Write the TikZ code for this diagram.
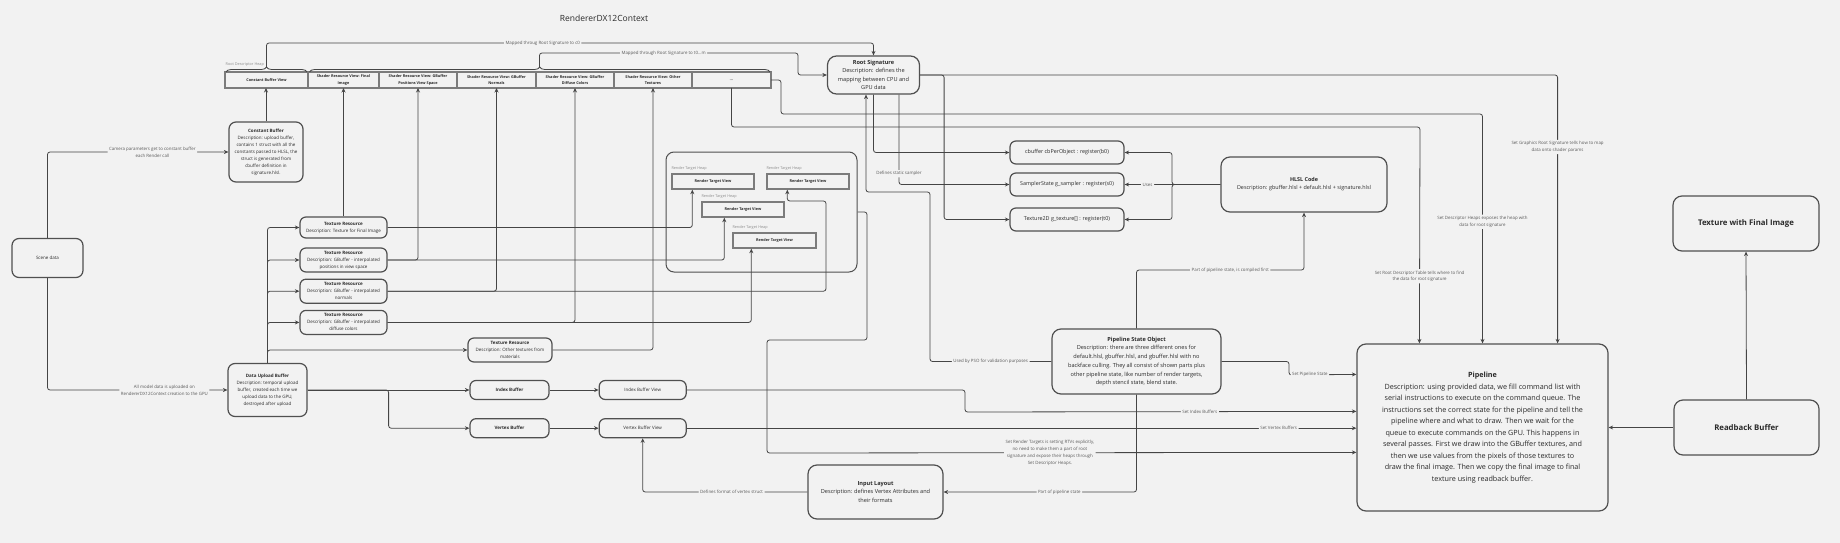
\documentclass[tikz,border=0pt]{standalone}
\usepackage{fontspec}
\setmainfont{Open Sans}
\usepackage{xcolor}
\usetikzlibrary{arrows.meta, positioning, calc, decorations.pathreplacing}
\definecolor{canvasgray}{HTML}{F2F2F2}
\definecolor{edgegray}{HTML}{454545}
\definecolor{framegray}{HTML}{505050}
\definecolor{cellgray}{HTML}{7C7C7C}
\definecolor{inkgray}{HTML}{2A2A2A}
\definecolor{notegray}{HTML}{5A5A5A}
\definecolor{faintgray}{HTML}{8C8C8C}

\begin{document}
\begin{tikzpicture}[
    x=1pt, y=-1pt,
    box/.style={rectangle, draw=framegray, line width=1.2pt, rounded corners=7pt, fill=canvasgray, align=center, text=inkgray, inner sep=1pt, font=\fontsize{4.5}{7}\selectfont},
    pillbox/.style={box, rounded corners=6pt},
    bigbox/.style={box, rounded corners=9pt, font=\fontsize{5.6}{8.7}\selectfont},
    cell/.style={rectangle, draw=cellgray, line width=1.4pt, fill=canvasgray, outer sep=0pt, minimum height=16pt, inner sep=0pt, align=center, text=inkgray, font=\bfseries\fontsize{3.8}{6.5}\selectfont},
    rtvbox/.style={rectangle, draw=cellgray, line width=1.4pt, fill=canvasgray, minimum width=82pt, minimum height=15pt, inner sep=0pt, text=inkgray, font=\bfseries\fontsize{3.8}{5}\selectfont},
    heaplabel/.style={text=faintgray, inner sep=0pt, font=\fontsize{3.8}{5}\selectfont},
    note/.style={fill=canvasgray, inner sep=1.5pt, align=center, text=notegray, font=\fontsize{4.4}{6.8}\selectfont},
    arrow/.style={-{Stealth[length=4.5pt, width=4pt]}, draw=edgegray, line width=0.8pt, rounded corners=2.5pt},
    link/.style={draw=edgegray, line width=0.8pt}
]

% Canvas
\fill[canvasgray] (0,0) rectangle (1840,543);
\useasboundingbox (0,0) rectangle (1840,543);

\node[text=inkgray, font=\fontsize{8.5}{10}\selectfont] (title) at (604,18) {RendererDX12Context};

% Root descriptor heap
\node[cell, minimum width=83pt] (cbv) at (266.5,80) {Constant Buffer View};
\node[cell, minimum width=71pt, right=0pt of cbv] (srvfinal) {Shader Resource View: Final\\Image};
\node[cell, minimum width=78pt, right=0pt of srvfinal] (srvpos) {Shader Resource View: GBuffer\\Positions View Space};
\node[cell, minimum width=79pt, right=0pt of srvpos] (srvnorm) {Shader Resource View: GBuffer\\Normals};
\node[cell, minimum width=78pt, right=0pt of srvnorm] (srvdiff) {Shader Resource View: GBuffer\\Diffuse Colors};
\node[cell, minimum width=78pt, right=0pt of srvdiff] (srvother) {Shader Resource View: Other\\Textures};
\node[cell, minimum width=79pt, right=0pt of srvother, font=\fontsize{5}{6}\selectfont] (srvmore) {...};
\node[heaplabel, anchor=west] (rdheap) at (225.5,64.5) {Root Descriptor Heap};

\draw[link, decorate, decoration={brace, amplitude=5pt}] ($(cbv.north west)+(1,0)$) -- ($(cbv.north east)+(-1,0)$);
\draw[link, decorate, decoration={brace, amplitude=5pt}] ($(srvfinal.north west)+(1.5,0)$) -- ($(srvmore.north east)+(-1,0)$);
\coordinate (c0tip) at (266.5,67);
\coordinate (ttip) at (539.5,67);

% Root signature and shader registers
\node[bigbox, minimum width=92pt, minimum height=38pt, font=\fontsize{5.6}{8.5}\selectfont] (rootsig) at (873.5,75) {\textbf{Root Signature}\\Description: defines the\\mapping between CPU and\\GPU data};
\node[pillbox, minimum width=114pt, minimum height=23pt, font=\fontsize{5.4}{7}\selectfont] (cbreg) at (1067,152.5) {cbuffer cbPerObject : register(b0)};
\node[pillbox, minimum width=114pt, minimum height=23pt, font=\fontsize{5.4}{7}\selectfont] (sampreg) at (1067,184.5) {SamplerState g\_sampler : register(s0)};
\node[pillbox, minimum width=114pt, minimum height=23pt, font=\fontsize{5.4}{7}\selectfont] (texreg) at (1067,219.5) {Texture2D g\_texture[] : register(t0)};
\node[bigbox, minimum width=166pt, minimum height=55pt, font=\fontsize{5.4}{8}\selectfont] (hlsl) at (1304,184.5) {\textbf{HLSL Code}\\Description: gbuffer.hlsl + default.hlsl + signature.hlsl};

% Output side
\node[bigbox, minimum width=146pt, minimum height=55pt, font=\bfseries\fontsize{7.8}{10}\selectfont] (finaltex) at (1746,223.5) {Texture with Final Image};
\node[bigbox, minimum width=251pt, minimum height=167pt, font=\fontsize{7.2}{11.5}\selectfont] (pipe) at (1482.5,427.5) {\textbf{Pipeline}\\Description: using provided data, we fill command list with\\serial instructions to execute on the command queue. The\\instructions set the correct state for the pipeline and tell the\\pipeline where and what to draw. Then we wait for the\\queue to execute commands on the GPU. This happens in\\several passes. First we draw into the GBuffer textures, and\\then we use values from the pixels of those textures to\\draw the final image. Then we copy the final image to final\\texture using readback buffer.};
\node[bigbox, minimum width=145pt, minimum height=55pt, font=\bfseries\fontsize{7.8}{10}\selectfont] (readback) at (1746.5,427.5) {Readback Buffer};

% Pipeline state
\node[bigbox, minimum width=169pt, minimum height=65pt] (pso) at (1136.5,361.5) {\textbf{Pipeline State Object}\\Description: there are three different ones for\\default.hlsl, gbuffer.hlsl, and gbuffer.hlsl with no\\backface culling. They all consist of shown parts plus\\other pipeline state, like number of render targets,\\depth stencil state, blend state.};
\node[bigbox, minimum width=135pt, minimum height=54pt] (layout) at (875.5,492) {\textbf{Input Layout}\\Description: defines Vertex Attributes and\\their formats};

% CPU side data
\node[box, minimum width=71pt, minimum height=39pt] (scene) at (47.5,258) {Scene data};
\node[box, minimum width=74pt, minimum height=60pt] (constbuf) at (266,152) {\textbf{Constant Buffer}\\Description: upload buffer,\\contains 1 struct with all the\\constants passed to HLSL, the\\struct is generated from\\cbuffer definition in\\signature.hlsl.};
\node[box, minimum width=79pt, minimum height=53pt] (upload) at (267.5,390) {\textbf{Data Upload Buffer}\\Description: temporal upload\\buffer, created each time we\\upload data to the GPU,\\destroyed after upload};

% Texture resources
\node[pillbox, minimum width=87pt, minimum height=21pt] (texfinal) at (343.5,227.5) {\textbf{Texture Resource}\\Description: Texture for Final Image};
\node[pillbox, minimum width=87pt, minimum height=24pt] (texpos) at (343.5,260) {\textbf{Texture Resource}\\Description: GBuffer - interpolated\\positions in view space};
\node[pillbox, minimum width=87pt, minimum height=24pt, below=6pt of texpos] (texnorm) {\textbf{Texture Resource}\\Description: GBuffer - interpolated\\normals};
\node[pillbox, minimum width=87pt, minimum height=24pt, below=6pt of texnorm] (texdiff) {\textbf{Texture Resource}\\Description: GBuffer - interpolated\\diffuse colors};
\node[pillbox, minimum width=84pt, minimum height=24pt] (texother) at (510,350) {\textbf{Texture Resource}\\Description: Other textures from\\materials};

% Buffers and views
\node[pillbox, minimum width=79pt, minimum height=19pt, font=\bfseries\fontsize{4.5}{6}\selectfont] (ibuf) at (509.5,390) {Index Buffer};
\node[pillbox, minimum width=79pt, minimum height=19pt, font=\bfseries\fontsize{4.5}{6}\selectfont, below=18pt of ibuf] (vbuf) {Vertex Buffer};
\node[pillbox, minimum width=87pt, minimum height=19pt, right=49pt of ibuf] (ibview) {Index Buffer View};
\node[pillbox, minimum width=87pt, minimum height=19pt, below=18pt of ibview] (vbview) {Vertex Buffer View};

% Render target heaps
\node[draw=framegray, line width=1pt, rounded corners=8pt, minimum width=191pt, minimum height=120pt] (rtheap) at (761.5,212) {};
\node[rtvbox] (rtvfinal) at (713,181.5) {Render Target View};
\node[rtvbox] (rtvnorm) at (808,181.5) {Render Target View};
\node[rtvbox] (rtvpos) at (743,209.5) {Render Target View};
\node[rtvbox, minimum width=83pt] (rtvdiff) at (774.5,240.5) {Render Target View};
\node[heaplabel, above right=3pt and 0pt of rtvfinal.north west] (rthfinal) {Render Target Heap};
\node[heaplabel, above right=3pt and 0pt of rtvnorm.north west] (rthnorm) {Render Target Heap};
\node[heaplabel, above right=3pt and 0pt of rtvpos.north west] (rthpos) {Render Target Heap};
\node[heaplabel, above right=3pt and 0pt of rtvdiff.north west] (rthdiff) {Render Target Heap};

% Scene data flows
\draw[arrow] (scene.north) |- node[note, pos=0.79] (camnote) {Camera parameters get to constant buffer\\each Render call} (constbuf.west);
\draw[arrow] (scene.south) |- node[note, pos=0.825] (modelnote) {All model data is uploaded on\\RendererDX12Context creation to the GPU} (upload.west);
\draw[arrow] (constbuf.north) -- (constbuf.north |- cbv.south);

% Upload buffer to resources
\draw[arrow] (upload.north) |- (texfinal.west);
\draw[arrow] (upload.north) |- (texpos.west);
\draw[arrow] (upload.north) |- (texnorm.west);
\draw[arrow] (upload.north) |- (texdiff.west);
\draw[arrow] (upload.north) |- (texother.west);
\draw[arrow] (upload.east) -- (ibuf.west);
\draw[arrow] (upload.east) -- ++(81,0) |- (vbuf.west);
\draw[arrow] (ibuf) -- (ibview);
\draw[arrow] (vbuf) -- (vbview);

% Resources to views
\draw[arrow] (texfinal.north) -- (texfinal.north |- srvfinal.south);
\draw[arrow] (texpos.east) -| (srvpos.south);
\draw[arrow] (texnorm.east) -| (srvnorm.south);
\draw[arrow] (texdiff.east) -| (srvdiff.south);
\draw[arrow] (texother.east) -| (srvother.south);
\draw[arrow] (texfinal.east) -| ($(rtvfinal.south west)+(21,0)$);
\draw[arrow] (texpos.east) -| ($(rtvpos.south west)+(23,0)$);
\draw[arrow] (texnorm.east) -| (826,201) -| ($(rtvnorm.south west)+(21,0)$);
\draw[arrow] (texdiff.east) -| ($(rtvdiff.south west)+(19,0)$);

% Mapping through root signature
\draw[arrow] (c0tip) -- (266.5,43) -- node[note, pos=0.455] (c0note) {Mapped throug Root Signature to c0} (873.5,43) -- (rootsig.north);
\draw[arrow] (ttip) -- (539.5,53) -- node[note, pos=0.48] (tnote) {Mapped through Root Signature to t0...m} (798,53) |- (rootsig.west);
\draw[arrow] (rootsig.south) |- (cbreg.west);
\draw[arrow] ($(rootsig.south)+(25.5,0)$) |- node[note, pos=0.44] (samplernote) {Defines static sampler} (sampreg.west);
\draw[arrow] (rootsig.east) -- ++(24,0) |- (texreg.west);

% Shader code
\draw[arrow] (hlsl.west) -- node[note, pos=0.76] (usesnote) {Uses} (sampreg.east);
\draw[arrow] (hlsl.west) -- (1172,184.5) |- (cbreg.east);
\draw[arrow] (hlsl.west) -- (1172,184.5) |- (texreg.east);

% Pipeline state object
\draw[arrow] (pso.west) -- node[note, pos=0.5] (psonote) {Used by PSO for validation purposes} (930,361.5) |- (866,192) -- ($(rootsig.south)+(-7.5,0)$);
\draw[arrow] (pso.north) |- node[note, pos=0.78] (compilenote) {Part of pipeline state, is compiled first} (1304,270) -- (hlsl.south);
\draw[arrow] (pso.south) |- node[note, pos=0.70] (statenote) {Part of pipeline state} (layout.east);
\draw[arrow] (layout.west) -| node[note, pos=0.23] (formatnote) {Defines format of vertex struct} (vbview.south);

% Into the pipeline
\draw[arrow] (rootsig.east) -| node[note, pos=0.634] (signote) {Set Graphics Root Signature tells how to map\\data onto shader params} ($(pipe.north east)+(-51,0)$);
\draw[arrow] (srvmore.east) -- ++(10,0) |- (1482.5,114) -- node[note, pos=0.47] (heapsnote) {Set Descriptor Heaps exposes the heap with\\data for root signature} (pipe.north);
\draw[arrow] (srvmore.south) |- (1420,127) -- node[note, pos=0.69] (tablenote) {Set Root Descriptor Table tells where to find\\the data for root signature} ($(pipe.north west)+(63,0)$);
\draw[arrow] (pso.east) -- (1289,361.5) -- (1289,375) -- node[note, pos=0.31] (psosetnote) {Set Pipeline State} ($(pipe.north west)+(0,31)$);
\draw[arrow] (ibview.east) -| (965,412) -- node[note, pos=0.6] (ibnote) {Set Index Buffers} ($(pipe.north west)+(0,68)$);
\draw[arrow] (vbview.east) -- node[note, pos=0.884] (vbnote) {Set Vertex Buffers} (vbview.east -| pipe.west);
\draw[arrow] (rtheap.east) -| (867,340) -| (767,453) -- node[note, pos=0.48] (rtnote) {Set Render Targets is setting RTVs explicitly,\\no need to make them a part of root\\signature and expose their heaps through\\Set Descriptor Heaps.} ($(pipe.north west)+(0,109)$);

% Readback
\draw[arrow] (readback.west) -- (pipe.east);
\draw[arrow] (readback.north) -- (finaltex.south);

\end{tikzpicture}
\end{document}
